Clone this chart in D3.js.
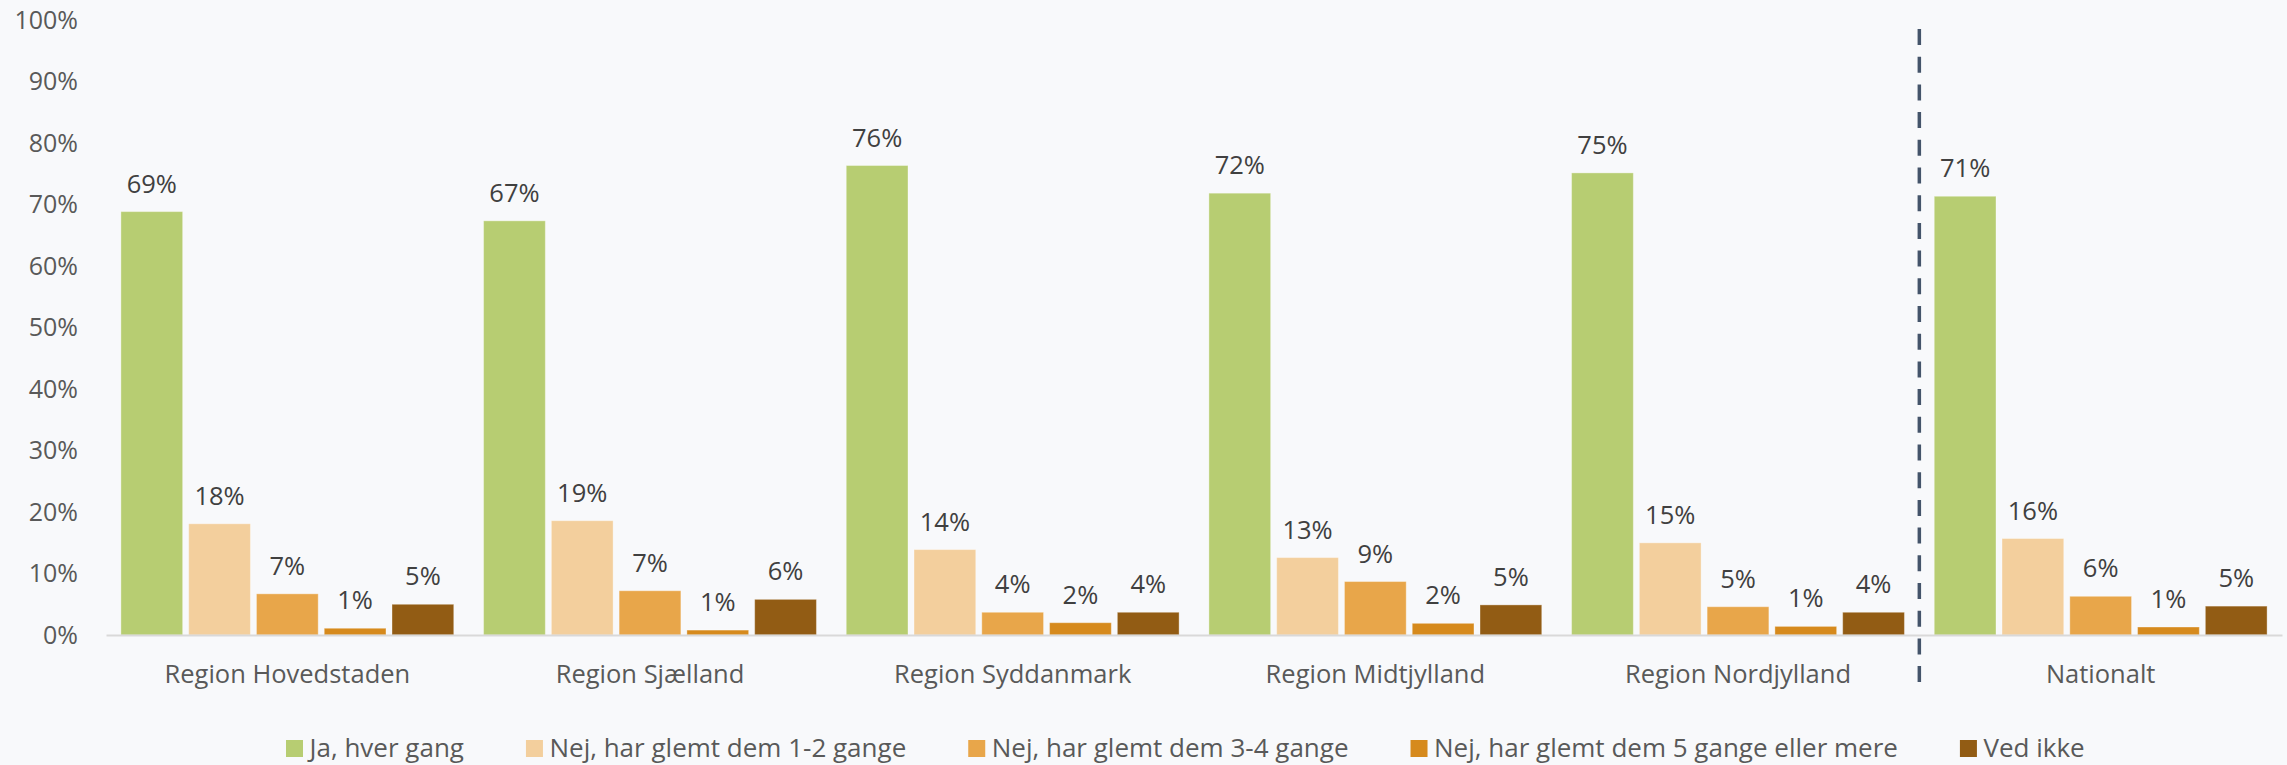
<!DOCTYPE html>
<html>
<head>
<meta charset="utf-8">
<script src="https://cdn.jsdelivr.net/npm/d3@7"></script>
<style>
  html, body { margin: 0; padding: 0; background: #f8f9fb; }
  svg { display: block; font-family: "Open Sans", "Noto Sans", sans-serif; }
</style>
</head>
<body>
<svg id="chart" width="2287" height="765"></svg>
<script>
// categories on the x axis
var categories = ["Region Hovedstaden", "Region Sjælland", "Region Syddanmark",
    "Region Midtjylland", "Region Nordjylland", "Nationalt"];

// series names (legend order)
var seriesNames = ["Ja, hver gang", "Nej, har glemt dem 1-2 gange", "Nej, har glemt dem 3-4 gange",
    "Nej, har glemt dem 5 gange eller mere", "Ved ikke"];

// values in percent, one array per series, in category order
var jaHverGang = [68.9, 67.4, 76.4, 71.9, 75.2, 71.4];
var glemt1til2 = [18.1, 18.6, 13.9, 12.6, 15.0, 15.7];
var glemt3til4 = [6.7, 7.2, 3.7, 8.7, 4.6, 6.3];
var glemt5plus = [1.1, 0.8, 2.0, 1.9, 1.4, 1.3];
var vedIkke = [5.0, 5.8, 3.7, 4.9, 3.7, 4.7];

var yTicks = [0, 10, 20, 30, 40, 50, 60, 70, 80, 90, 100];

var seriesColors = ["#b7cd72", "#f3cf9d", "#e8a64a", "#d68a1d", "#925c14"];
var seriesValues = [jaHverGang, glemt1til2, glemt3til4, glemt5plus, vedIkke];

var svg = d3.select('#chart');

var plot = {l: 106, r: 2282, t: 20.5, b: 635};

var xScale = d3.scaleBand()
    .domain(categories)
    .range([plot.l, plot.r]);

var xInner = d3.scaleBand()
    .domain(d3.range(seriesNames.length))
    .range([0, xScale.bandwidth()])
    .paddingInner(0.089)
    .paddingOuter(0.22);

var yScale = d3.scaleLinear()
    .domain([0, 100])
    .range([plot.b, plot.t]);

// y axis labels (no gridlines in the original)
var yAxis = d3.axisLeft(yScale)
    .tickValues(yTicks)
    .tickSize(0)
    .tickPadding(28)
    .tickFormat(function(d) { return d + '%'; });

var yG = svg.append('g')
    .attr('transform', 'translate(' + plot.l + ',0)')
    .call(yAxis);
yG.select('.domain').remove();
yG.selectAll('text')
    .attr('font-size', 25)
    .attr('font-family', '"Open Sans", sans-serif')
    .attr('fill', '#595959');

// bars
var rows = categories.map(function(c, i) {
    return seriesValues.map(function(vals, s) {
        return {category: c, series: s, value: vals[i]};
    });
});

var groups = svg.selectAll('.group')
    .data(rows)
    .enter()
    .append('g')
    .attr('class', 'group')
    .attr('transform', function(d) {
        return 'translate(' + xScale(d[0].category) + ',0)';
    });

groups.selectAll('rect')
    .data(function(d) { return d; })
    .enter()
    .append('rect')
    .attr('x', function(d) { return xInner(d.series); })
    .attr('y', function(d) { return yScale(d.value); })
    .attr('width', xInner.bandwidth())
    .attr('height', function(d) { return yScale(0) - yScale(d.value); })
    .attr('fill', function(d) { return seriesColors[d.series]; })
    .attr('stroke', '#ffffff')
    .attr('stroke-opacity', 0.35)
    .attr('stroke-width', 1);

// value labels
groups.selectAll('.label')
    .data(function(d) { return d; })
    .enter()
    .append('text')
    .attr('class', 'label')
    .attr('x', function(d) { return xInner(d.series) + xInner.bandwidth() / 2; })
    .attr('y', function(d) { return yScale(d.value) - 19; })
    .attr('text-anchor', 'middle')
    .attr('font-size', 25.5)
    .attr('fill', '#404040')
    .text(function(d) { return Math.round(d.value) + '%'; });

// x axis line + category labels
var xAxis = d3.axisBottom(xScale)
    .tickSize(0)
    .tickPadding(30);

var xG = svg.append('g')
    .attr('transform', 'translate(0,' + plot.b + ')')
    .call(xAxis);
xG.select('.domain')
    .attr('stroke', '#d9d9d9')
    .attr('stroke-width', 2);
xG.selectAll('text')
    .attr('font-size', 25.5)
    .attr('font-family', '"Open Sans", sans-serif')
    .attr('fill', '#595959');

// dashed separator before Nationalt
var sepX = xScale('Nationalt');
svg.append('line')
    .attr('x1', sepX)
    .attr('x2', sepX)
    .attr('y1', 29)
    .attr('y2', 687)
    .attr('stroke', '#44546a')
    .attr('stroke-width', 3.5)
    .attr('stroke-dasharray', '16,11.7');

// legend (sits at the very bottom, nudged up so descenders stay inside)
var legend = svg.append('g').attr('class', 'legend');
var legX = 286;
seriesNames.forEach(function(name, i) {
    var item = legend.append('g').attr('transform', 'translate(' + legX + ',0)');
    item.append('rect')
        .attr('x', 0)
        .attr('y', 740)
        .attr('width', 17)
        .attr('height', 17)
        .attr('fill', seriesColors[i]);
    var t = item.append('text')
        .attr('x', 23.5)
        .attr('y', 756.5)
        .attr('font-size', 26)
        .attr('fill', '#595959')
        .text(name);
    legX += 23.5 + t.node().getComputedTextLength() + 62;
});
</script>
</body>
</html>
